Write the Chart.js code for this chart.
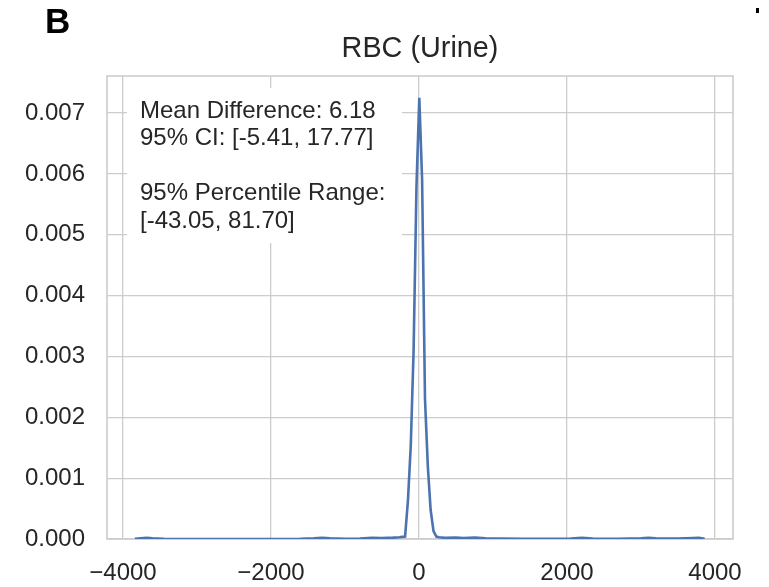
<html lang="en">

<head>
  <meta charset="utf-8">
  <title>RBC (Urine)</title>
  <style>
    body {
      padding: 0;
      margin: 0;
      background: #ffffff;
    }
  </style>
  <script src="https://cdn.jsdelivr.net/npm/chart.js@4.4.1/dist/chart.umd.min.js"></script>
</head>

<body>

  <canvas id="chart" width="769" height="587"></canvas>
  <script>

    // density curve
    const diff_x = [-3840, -3760, -3680, -3600, -3450, -3000, -2500, -2000, -1600, -1420, -1310, -1200,
      -1000, -800, -635, -500, -350, -265, -226, -188, -149, -111, -73, -34, 4, 42, 81, 119, 157, 196,
      234, 272, 350, 500, 600, 756, 900, 1100, 1400, 1800, 2050, 2200, 2350, 2700, 3000, 3100, 3200,
      3500, 3700, 3780, 3860];
    const density = [0.000002, 0.000010, 0.000020, 0.000012, 0.000003, 0.000001, 0.000001, 0.000001,
      0.000003, 0.000010, 0.000018, 0.000010, 0.000004, 0.000008, 0.000020, 0.000014, 0.000022,
      0.000030, 0.000035, 0.000040, 0.00064, 0.00154, 0.0031, 0.0058, 0.00725, 0.0059, 0.0023, 0.0012,
      0.00048, 0.00013, 0.00004, 0.00003, 0.00002, 0.000025, 0.000015, 0.000022, 0.000012, 0.000008,
      0.000002, 0.000002, 0.000006, 0.000018, 0.000006, 0.000003, 0.000012, 0.00002, 0.00001,
      0.000006, 0.000016, 0.00002, 0.000004];

    const x_ticks = [-4000, -2000, 0, 2000, 4000];
    const y_ticks = [0, 0.001, 0.002, 0.003, 0.004, 0.005, 0.006, 0.007];

    const title = 'RBC (Urine)';
    const panel = 'B';
    const note_lines = ['Mean Difference: 6.18', '95% CI: [-5.41, 17.77]', '', '95% Percentile Range:', '[-43.05, 81.70]'];

    const font = '"Liberation Sans", Arial, Helvetica, sans-serif';
    const ink = '#262626';
    const grey = '#cccccc';

    const extras = {
      id: 'extras',
      beforeDatasetsDraw(chart) {
        const c = chart.ctx;
        const a = chart.chartArea;
        c.save();
        // frame
        c.strokeStyle = grey;
        c.lineWidth = 1.6;
        c.strokeRect(a.left, a.top, a.right - a.left, a.bottom - a.top);
        // note box
        c.fillStyle = '#ffffff';
        c.fillRect(a.left + 20, a.top + 12, 275, 155);
        c.fillStyle = ink;
        c.font = '24px ' + font;
        c.textBaseline = 'middle';
        c.textAlign = 'left';
        note_lines.forEach((t, i) => {
          c.fillText(t, a.left + 33, a.top + 35 + i * 27.5);
        });
        c.restore();
      },
      afterDraw(chart) {
        const c = chart.ctx;
        const a = chart.chartArea;
        c.save();
        // title over the plot area
        c.fillStyle = ink;
        c.font = '28.8px ' + font;
        c.textAlign = 'center';
        c.textBaseline = 'middle';
        c.fillText(title, (a.left + a.right) / 2, 49);
        // panel letter
        c.fillStyle = '#000000';
        c.font = 'bold 35px ' + font;
        c.textAlign = 'left';
        c.textBaseline = 'alphabetic';
        c.fillText(panel, 45, 33);
        c.fillRect(756, 8, 3, 5);
        c.restore();
      }
    };

    const points = diff_x.map((x, i) => ({ x: x, y: density[i] }));

    const ctx = document.getElementById('chart');
    const myChart = new Chart(ctx, {
      type: 'line',
      data: {
        datasets: [{
          data: points,
          borderColor: '#4c72b0',
          borderWidth: 2.6,
          pointRadius: 0,
          tension: 0,
          fill: false
        }]
      },
      options: {
        responsive: false,
        animation: false,
        layout: {
          padding: { left: 0, right: 36, top: 76, bottom: 0 }
        },
        plugins: {
          legend: { display: false },
          tooltip: { enabled: false },
          title: { display: false }
        },
        scales: {
          x: {
            type: 'linear',
            min: -4216,
            max: 4243,
            afterBuildTicks: axis => { axis.ticks = x_ticks.map(v => ({ value: v })); },
            afterFit: axis => { axis.height = 48; },
            border: { display: false },
            grid: { color: grey, lineWidth: 1.3, drawTicks: false },
            ticks: {
              color: ink,
              padding: 20,
              maxRotation: 0,
              font: { family: font, size: 24 },
              callback: v => String(v).replace('-', '\u2212')
            }
          },
          y: {
            min: 0,
            max: 0.00761,
            afterBuildTicks: axis => { axis.ticks = y_ticks.map(v => ({ value: v })); },
            afterFit: axis => { axis.width = 107; },
            border: { display: false },
            grid: { color: grey, lineWidth: 1.3, drawTicks: false },
            ticks: {
              color: ink,
              padding: 22,
              font: { family: font, size: 24 },
              callback: v => v.toFixed(3)
            }
          }
        }
      },
      plugins: [extras]
    });
  </script>

</body>

</html>
